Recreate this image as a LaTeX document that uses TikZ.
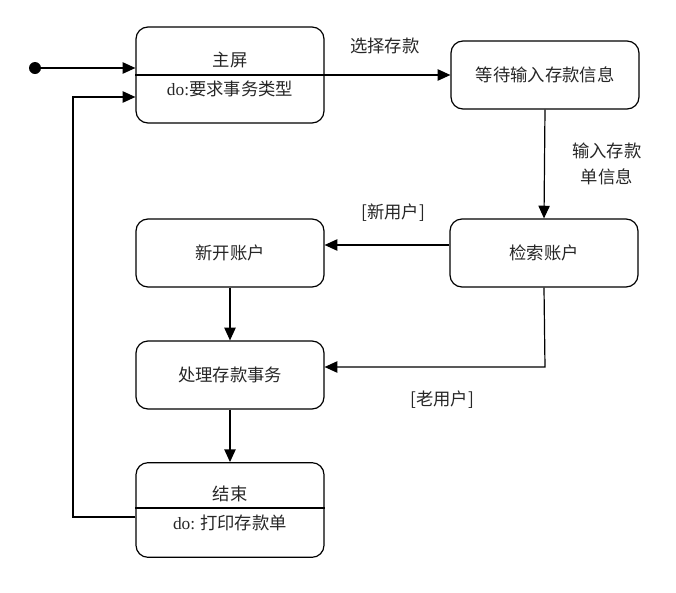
\documentclass[tikz,border=0pt]{standalone}
\usepackage{fontspec}
\setmainfont{Liberation Serif}
\newfontfamily\cjk{Noto Sans CJK SC}
\usetikzlibrary{arrows.meta}
\tikzset{
  estado/.style={draw, line width=0.9pt, rounded corners=9pt,
    minimum width=141pt, minimum height=51pt, inner sep=0pt},
  texto/.style={text=black!85, font=\fontsize{13}{20}\selectfont\cjk},
  flecha/.style={line width=0.9pt, -{Triangle[length=9.5pt,width=8.5pt]}}
}
\begin{document}
\begin{tikzpicture}[x=0.75pt,y=-0.75pt]
    \useasboundingbox (0,0) rectangle (676,593);
    % Estados
    \node[estado, minimum height=72pt] (home) at (230,75) {};
    \node[estado] (wait) at (545,75) {};
    \node[estado] (search) at (544,253) {};
    \node[estado] (open) at (230,253) {};
    \node[estado] (proc) at (230,375) {};
    \node[estado, minimum height=71pt] (endst) at (230,510) {};
    \draw[line width=0.9pt] (home.west) -- (home.east);
    \draw[line width=0.9pt] (endst.west |- 0,508) -- (endst.east |- 0,508);
    % Textos
    \node[texto] (homet) at (230,60) {主屏};
    \node[texto] (homed) at (230,89) {{\rmfamily do:}要求事务类型};
    \node[texto] at (wait) {等待输入存款信息};
    \node[texto] at (search) {检索账户};
    \node[texto] at (open) {新开账户};
    \node[texto] at (proc) {处理存款事务};
    \node[texto] (endt) at (230,494) {结束};
    \node[texto] (endd) at (230,523) {{\rmfamily do:} 打印存款单};
    % Punto inicial
    \fill (35,68) circle[radius=4.5pt] coordinate (ini);
    % Transiciones
    \draw[flecha] (ini) -- (ini -| home.west);
    \draw[flecha] (home.east) -- (wait.west)
      node[texto, pos=0.48, above=12pt] {选择存款};
    \draw[flecha] (wait.south) -- (search.north)
      node[texto, midway, right=17pt, align=center] {输入存款\\单信息};
    \draw[flecha] (search.west |- 0,245) -- (open.east |- 0,245)
      node[texto, pos=0.45, above=14pt] {[新用户]};
    \draw[flecha] (open) -- (proc);
    \coordinate (c1) at (545,367);
    \draw[flecha] (search.south) -- (c1) -- (c1 -| proc.east);
    \node[texto] at (442,400) {[老用户]};
    \draw[flecha] (proc) -- (endst);
    \coordinate (r1) at (73,517);
    \coordinate (r2) at (73,97);
    \draw[flecha] (r1 -| endst.west) -- (r1) -- (r2) -- (r2 -| home.west);
  \end{tikzpicture}
\end{document}
